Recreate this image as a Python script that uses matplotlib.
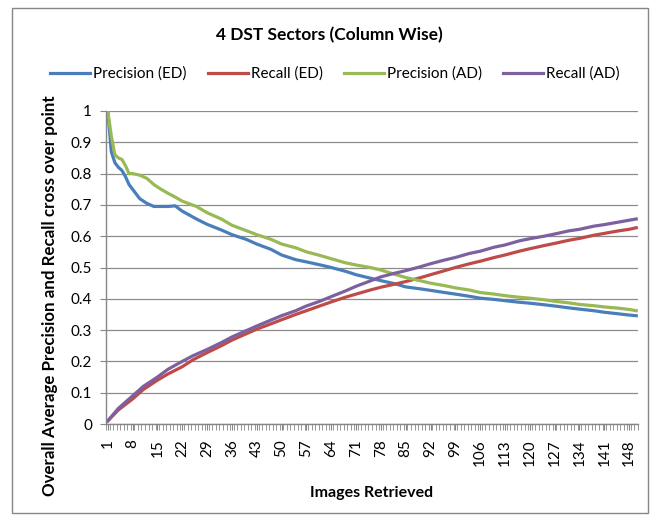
import matplotlib
matplotlib.use("Agg")
import matplotlib.pyplot as plt
from matplotlib.patches import Rectangle
from matplotlib.ticker import FixedLocator

# ---- data ----
x_prec = [1, 2, 3, 4, 5, 6, 7, 8, 10, 12, 14, 16, 18, 20, 22, 26, 29, 33, 36, 40, 43, 47, 50, 54, 57, 61, 64,
          68, 71, 75, 78, 82, 85, 89, 92, 96, 99, 103, 106, 110, 113, 117, 120, 124, 127, 131, 134, 138, 141, 145, 148, 150]
prec_ed = [1.0, 0.87, 0.835, 0.82, 0.81, 0.79, 0.765, 0.75, 0.72, 0.705, 0.695, 0.695, 0.695, 0.697, 0.68, 0.655, 0.638, 0.62, 0.605, 0.59, 0.575, 0.558, 0.54, 0.525, 0.518, 0.508, 0.50,
           0.488, 0.477, 0.466, 0.458, 0.448, 0.438, 0.432, 0.427, 0.42, 0.415, 0.408, 0.402, 0.398, 0.394, 0.389, 0.386, 0.381, 0.377, 0.371, 0.367, 0.362, 0.357, 0.352, 0.348, 0.346]
prec_ad = [1.0, 0.92, 0.86, 0.85, 0.845, 0.825, 0.80, 0.80, 0.795, 0.785, 0.765, 0.75, 0.737, 0.725, 0.712, 0.695, 0.675, 0.655, 0.635, 0.618, 0.605, 0.59, 0.575, 0.563, 0.55, 0.538, 0.528,
           0.515, 0.508, 0.5, 0.492, 0.478, 0.468, 0.458, 0.45, 0.442, 0.435, 0.428, 0.42, 0.415, 0.41, 0.405, 0.402, 0.397, 0.392, 0.387, 0.382, 0.378, 0.374, 0.37, 0.366, 0.362]

x_rec = [1, 4, 8, 11, 15, 18, 22, 25, 29, 33, 36, 40, 43, 47, 50, 54, 57, 61, 64, 68, 71, 75, 78, 82, 85, 89, 92,
         96, 99, 103, 106, 110, 113, 117, 120, 124, 127, 131, 134, 138, 141, 145, 148, 150]
rec_ed = [0.01, 0.045, 0.08, 0.11, 0.14, 0.16, 0.183, 0.205, 0.228, 0.25, 0.268, 0.288, 0.303, 0.32, 0.333, 0.35, 0.362, 0.378, 0.39, 0.405, 0.415, 0.428, 0.437, 0.447, 0.455, 0.467, 0.477,
          0.49, 0.5, 0.512, 0.52, 0.532, 0.54, 0.552, 0.56, 0.57, 0.577, 0.587, 0.593, 0.603, 0.609, 0.617, 0.622, 0.627]
rec_ad = [0.01, 0.05, 0.09, 0.12, 0.15, 0.175, 0.20, 0.218, 0.238, 0.26, 0.278, 0.298, 0.313, 0.332, 0.346, 0.362, 0.377, 0.393, 0.407, 0.425, 0.44, 0.457, 0.47, 0.482, 0.49, 0.502, 0.512,
          0.524, 0.532, 0.545, 0.552, 0.565, 0.572, 0.585, 0.592, 0.6, 0.607, 0.617, 0.622, 0.632, 0.637, 0.645, 0.651, 0.655]

series_names = ["Precision (ED)", "Recall (ED)", "Precision (AD)", "Recall (AD)"]
colors = ["#4A7EBB", "#BE4B48", "#98B954", "#7D60A0"]
x_ticks = list(range(1, 150, 7))
y_ticks = [0, 0.1, 0.2, 0.3, 0.4, 0.5, 0.6, 0.7, 0.8, 0.9, 1]
y_tick_labels = ["0", "0.1", "0.2", "0.3", "0.4", "0.5", "0.6", "0.7", "0.8", "0.9", "1"]

plt.rcParams['font.family'] = ['Lato', 'DejaVu Sans']

fig = plt.figure(figsize=(6.59, 5.23), dpi=100)
ax = fig.add_axes([106/659, 1-424/523, (638-106)/659, (424-111)/523])

data = [(x_prec, prec_ed), (x_rec, rec_ed), (x_prec, prec_ad), (x_rec, rec_ad)]
for (xs, ys), name, c in zip(data, series_names, colors):
    ax.plot(xs, ys, color=c, lw=2.3, label=name, solid_joinstyle='round')

ax.set_xlim(0.5, 150.5)
ax.set_ylim(0, 1)
ax.set_yticks(y_ticks)
ax.set_yticklabels(y_tick_labels, fontsize=11)
ax.set_xticks(x_ticks)
ax.set_xticklabels([str(v) for v in x_ticks], rotation=90, fontsize=11)
ax.xaxis.set_minor_locator(FixedLocator([i + 0.5 for i in range(0, 151)]))
ax.tick_params(axis='x', which='major', length=4, color='#868686', pad=7)
ax.tick_params(axis='x', which='minor', length=4, color='#868686')
ax.tick_params(axis='y', which='major', length=4, color='#868686', pad=6)

ax.grid(axis='y', color='#8C8C8C', lw=0.9)
ax.set_axisbelow(True)
for s in ['top', 'right']:
    ax.spines[s].set_visible(False)
for s in ['left', 'bottom']:
    ax.spines[s].set_color('#868686')
    ax.spines[s].set_linewidth(1.0)

fig.text((106 + 532/2)/659, 1-493/523, "Images Retrieved", ha='center', va='center', fontsize=11.5, fontweight='bold')
fig.text(50/659, 1-296/523, "Overall Average Precision and Recall cross over point", ha='center', va='center',
         rotation=90, fontsize=12.2, fontweight='bold')

fig.text(0.5, 1-35/523, "4 DST Sectors (Column Wise)", ha='center', va='center', fontsize=12.5, fontweight='bold')
fig.legend(loc='center', bbox_to_anchor=(335/659, 1-74/523), ncol=4, frameon=False, fontsize=11,
           handlelength=2.6, columnspacing=1.4, handletextpad=0.2)

fig.patches.append(Rectangle((12/659, 1-513/523), (648-12)/659, (513-8)/523, transform=fig.transFigure,
                             fill=False, edgecolor='#868686', lw=1.0))

fig.savefig("out.png", dpi=100)
